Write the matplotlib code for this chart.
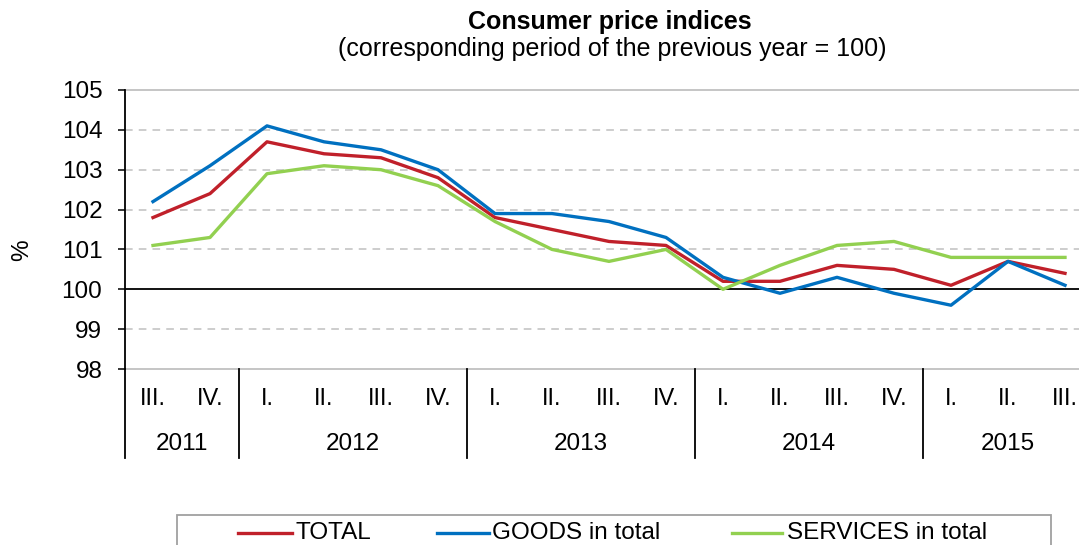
import matplotlib
matplotlib.use("Agg")
import matplotlib.pyplot as plt
import matplotlib.transforms as mtransforms
from matplotlib.lines import Line2D
from matplotlib.patches import Rectangle
import numpy as np

plt.rcParams['font.family'] = ['Liberation Sans', 'DejaVu Sans']

years = ["2011", "2012", "2013", "2014", "2015"]
quarters = ["III.", "IV.",
            "I.", "II.", "III.", "IV.",
            "I.", "II.", "III.", "IV.",
            "I.", "II.", "III.", "IV.",
            "I.", "II.", "III."]
quarters_per_year = [2, 4, 4, 4, 3]

total = [101.8, 102.4, 103.7, 103.4, 103.3, 102.8, 101.8, 101.5, 101.2, 101.1,
         100.2, 100.2, 100.6, 100.5, 100.1, 100.7, 100.4]
goods = [102.2, 103.1, 104.1, 103.7, 103.5, 103.0, 101.9, 101.9, 101.7, 101.3,
         100.3, 99.9, 100.3, 99.9, 99.6, 100.7, 100.1]
services = [101.1, 101.3, 102.9, 103.1, 103.0, 102.6, 101.7, 101.0, 100.7, 101.0,
            100.0, 100.6, 101.1, 101.2, 100.8, 100.8, 100.8]

series_names = ["TOTAL", "GOODS in total", "SERVICES in total"]
colors = ["#C0202A", "#0070C0", "#92D050"]

W, H = 1079, 545
fig = plt.figure(figsize=(W / 100, H / 100), dpi=100)
x0, x1 = 124.5, 1093.5
y0, y1 = 369, 90
ax = fig.add_axes([x0 / W, 1 - y0 / H, (x1 - x0) / W, (y0 - y1) / H])

x = np.arange(len(quarters))
lines = []
for vals, name, c in zip([total, goods, services], series_names, colors):
    ln, = ax.plot(x, vals, color=c, lw=2.4, label=name, zorder=3)
    lines.append(ln)

ax.set_xlim(-0.5, len(quarters) - 0.5)
ax.set_ylim(98, 105)
ax.set_yticks(range(98, 106))
for yv in range(98, 106):
    if yv == 100:
        ax.axhline(yv, color='black', lw=1.3, zorder=2)
    elif yv in (98, 105):
        ax.axhline(yv, color='#C0C0C0', lw=1.3, zorder=1, clip_on=False)
    else:
        ax.axhline(yv, color='#C0C0C0', lw=1.1, ls=(0, (5, 4)), zorder=1)

for s in ['top', 'right', 'bottom']:
    ax.spines[s].set_visible(False)
ax.spines['left'].set_color('black')
ax.spines['left'].set_linewidth(1.3)
ax.tick_params(axis='y', length=5, width=1.1, direction='out', labelsize=17.5, pad=11)
ax.set_xticks([])
fig.text(22 / W, 1 - 250 / H, '%', rotation=90, ha='center', va='center', fontsize=17.5)

trans = mtransforms.blended_transform_factory(ax.transData, ax.transAxes)
sep_bottom = -(458 - 369) / (y0 - y1)
cat_y = -(399 - 369) / (y0 - y1)
year_y = -(444 - 369) / (y0 - y1)
for i, q in enumerate(quarters):
    ax.text(i, cat_y, q, transform=trans, ha='center', va='center', fontsize=17)
start = 0
bounds = [0]
for yr, n in zip(years, quarters_per_year):
    ax.text(start + n / 2 - 0.5, year_y, yr, transform=trans, ha='center', va='center',
            fontsize=17.5)
    start += n
    bounds.append(start)
for b in bounds:
    ax.plot([b - 0.5, b - 0.5], [0, sep_bottom], transform=trans, color='black',
            lw=1.3, clip_on=False)

fig.text(610 / W, 1 - 22 / H, 'Consumer price indices', ha='center', va='center',
         fontsize=18, fontweight='bold')
fig.text(612 / W, 1 - 49 / H, '(corresponding period of the previous year = 100)',
         ha='center', va='center', fontsize=18)

# legend box (bottom cut off by figure edge, as in the reference)
fig.add_artist(Rectangle((177 / W, 1 - 560 / H), (1051 - 177) / W, 45 / H,
                         transform=fig.transFigure, facecolor='white',
                         edgecolor='#A0A0A0', lw=1.3, clip_on=False))
leg_y = 1 - 533 / H
for ln, (lx0, lx1, tx) in zip(lines, [(238, 292, 296), (437, 489, 492), (732, 782, 787)]):
    fig.add_artist(Line2D([lx0 / W, lx1 / W], [leg_y, leg_y], transform=fig.transFigure,
                          color=ln.get_color(), lw=2.4))
    fig.text(tx / W, leg_y, ln.get_label(), ha='left', va='center', fontsize=17.5)

fig.savefig('out.png', dpi=100)
